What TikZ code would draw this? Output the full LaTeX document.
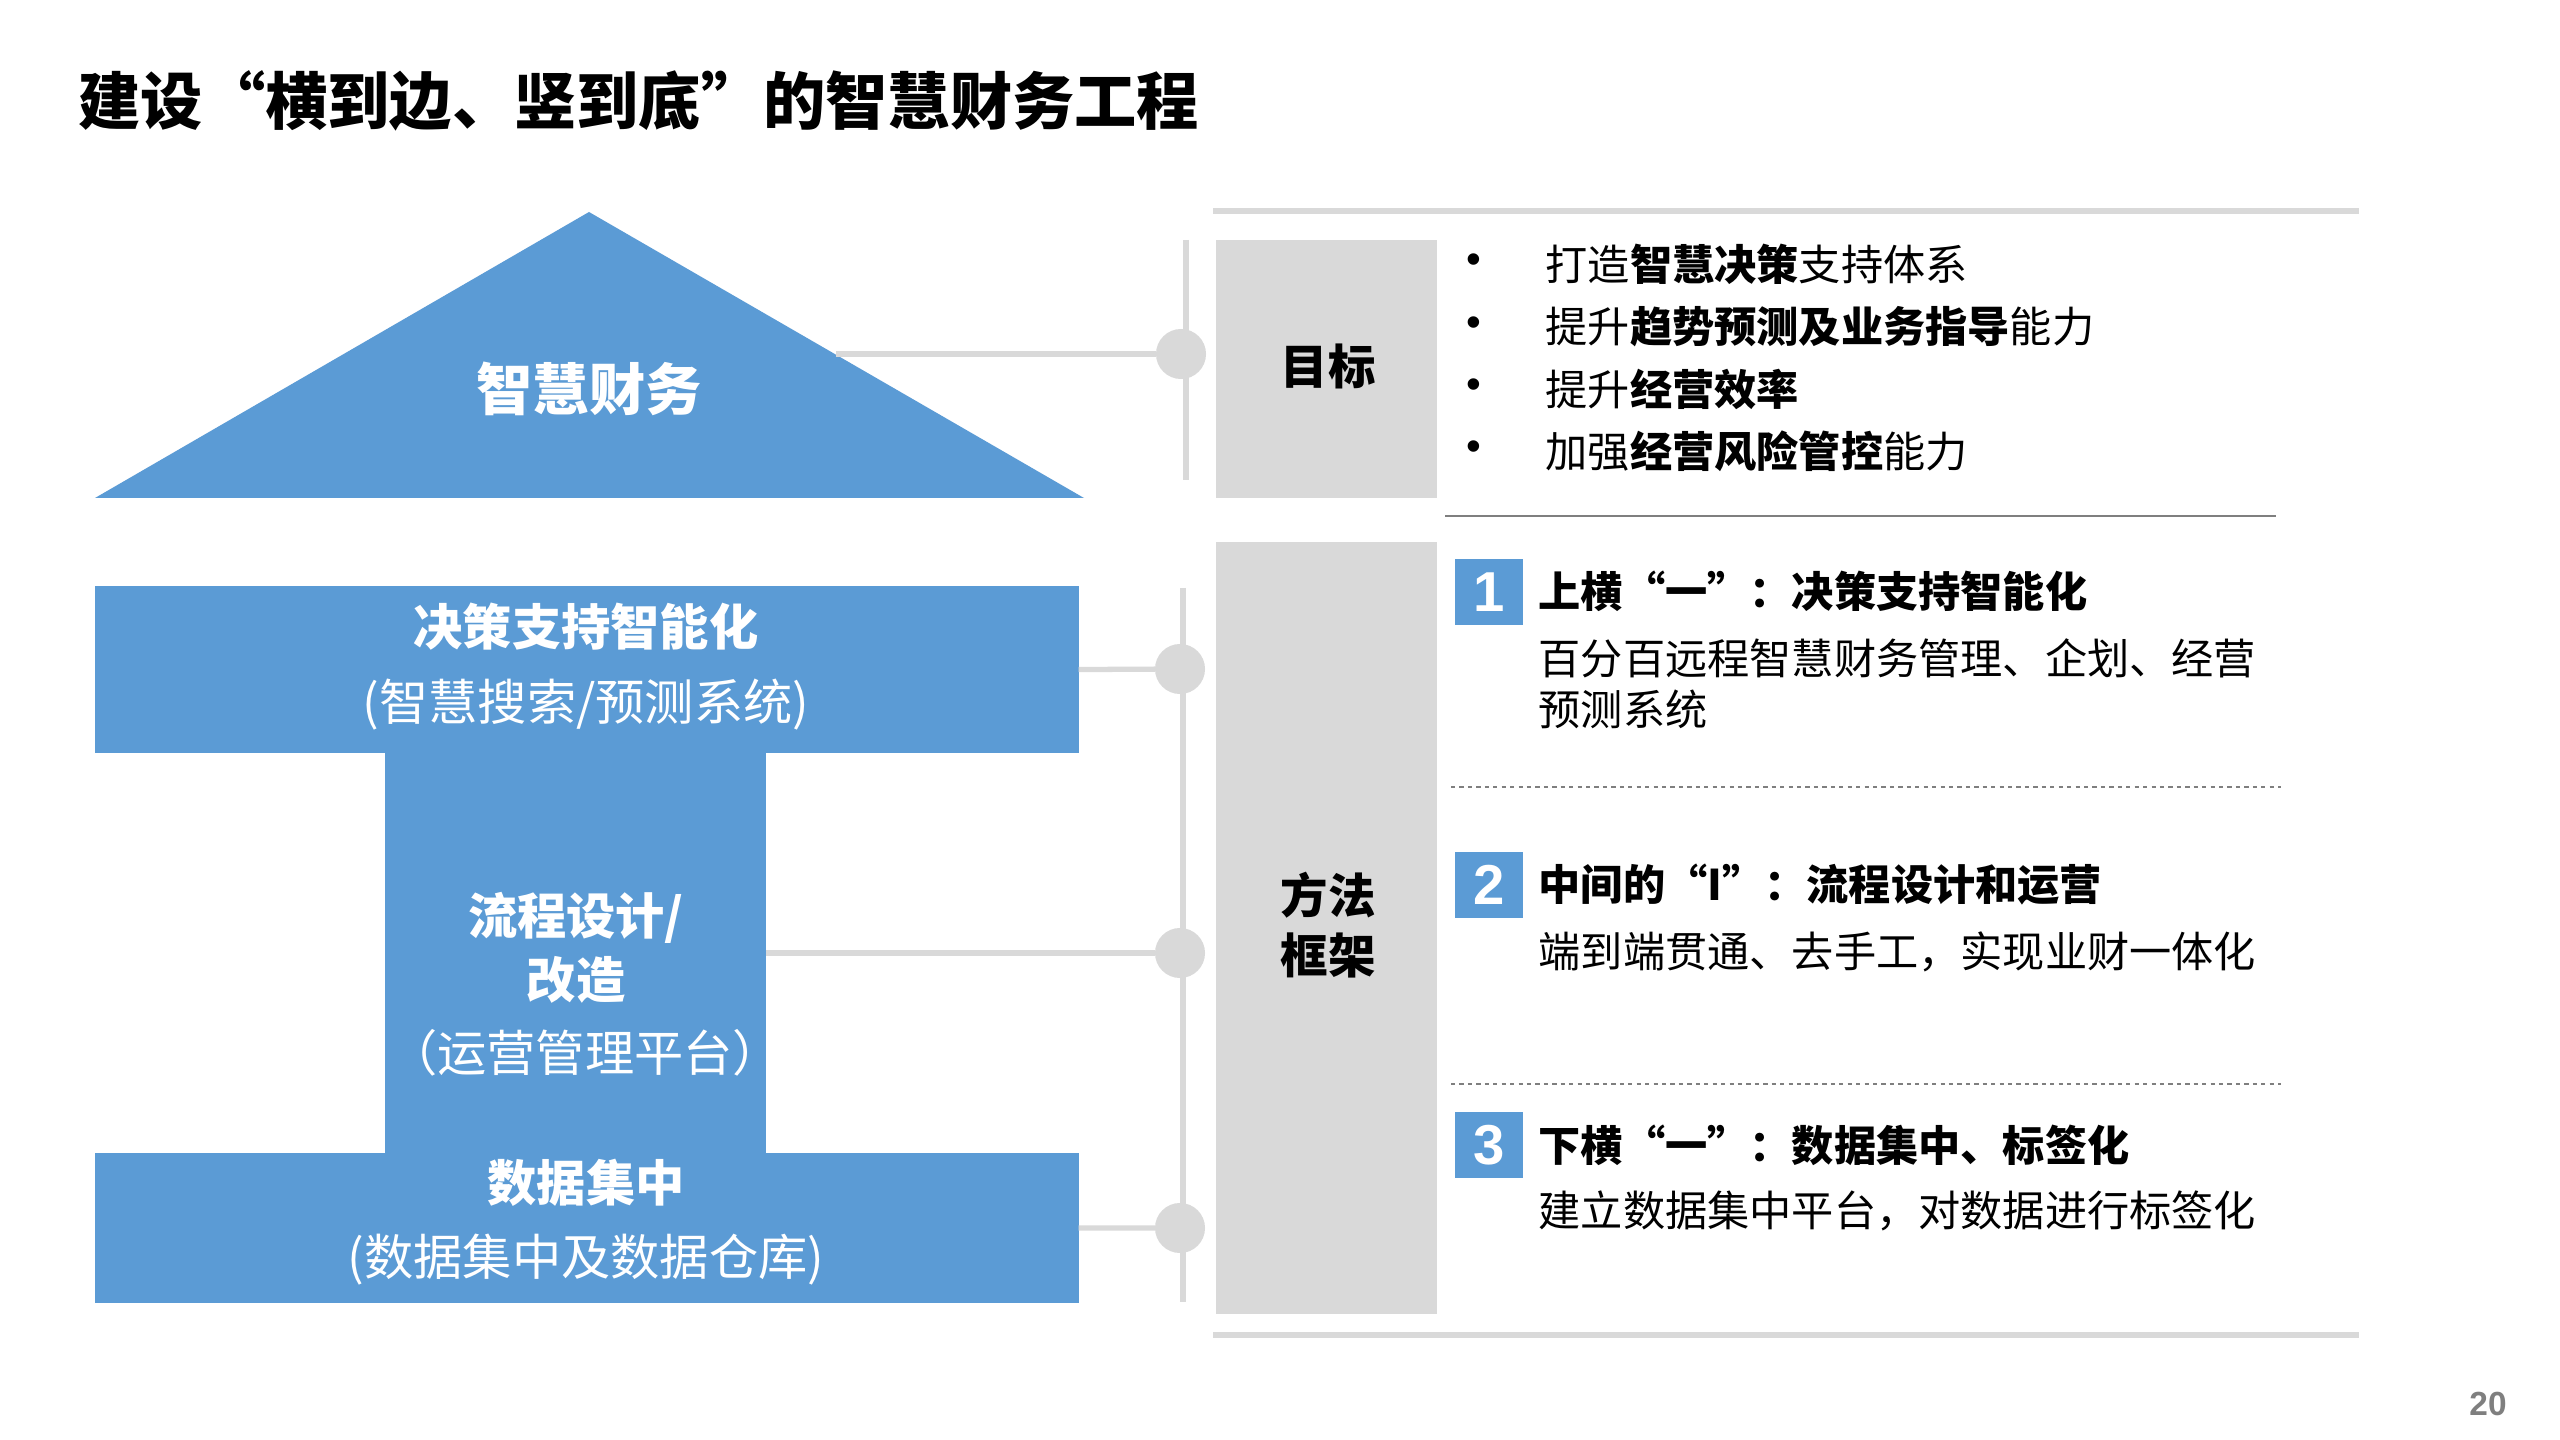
\documentclass[tikz,border=0pt]{standalone}
\usepackage{fontspec}
\setmainfont{Noto Sans CJK SC}
\newfontfamily\numfont{Liberation Sans}
\definecolor{myblue}{HTML}{5B9BD5}
\definecolor{lgray}{HTML}{D9D9D9}
\definecolor{dgray}{HTML}{7F7F7F}
\begin{document}
\begin{tikzpicture}[x=0.01cm,y=-0.01cm,
  bluebox/.style={fill=myblue, draw=none, inner sep=0, outer sep=0, anchor=north west},
  graybox/.style={fill=lgray, draw=none, inner sep=0, outer sep=0, anchor=north west},
  wtxt/.style={text=white, inner sep=0, font=\fontsize{14pt}{16pt}\selectfont},
  wbold/.style={wtxt, font=\fontsize{14pt}{16pt}\selectfont\bfseries},
  conn/.style={draw=lgray, line width=1.5pt},
  knob/.style={circle, fill=lgray, minimum size=0.5cm, inner sep=0, outer sep=0},
  btxt/.style={text=black, inner sep=0, anchor=west, font=\fontsize{12pt}{14pt}\selectfont},
  numbox/.style={fill=myblue, minimum width=0.68cm, minimum height=0.65cm, inner sep=0, text=white, font=\numfont\fontsize{16pt}{18pt}\selectfont\bfseries},
  sep/.style={draw=dgray, line width=0.6pt, dash pattern=on 1.2pt off 1.2pt}
]
\useasboundingbox (0,0) rectangle (2560,1440);
\fill[white] (0,0) rectangle (2560,1440);

% title
\node[inner sep=0, anchor=west, font=\fontsize{17.7pt}{20pt}\selectfont\bfseries] (title) at (78,101) {建设“横到边、竖到底”的智慧财务工程};

% triangle
\fill[myblue] (589,212) -- (1084,498) -- (95,498) -- cycle;
\node[wtxt, font=\fontsize{16pt}{18pt}\selectfont\bfseries] (tri) at (589,389) {智慧财务};
\coordinate (triR) at (836,354);

% I-shape
\node[bluebox, minimum width=3.81cm, minimum height=4.2cm] (col) at (385,743) {};
\node[bluebox, minimum width=9.83cm, minimum height=1.67cm] (top) at (95,586) {};
\node[bluebox, minimum width=9.83cm, minimum height=1.50cm] (bot) at (95,1153) {};

\node[wbold] (t1) at (586,627) {决策支持智能化};
\node[wtxt] (t2) at (586,705) {(智慧搜索/预测系统)};
\node[wbold] (m1) at (576,918) {流程设计/};
\node[wbold] (m2) at (576,980) {改造};
\node[wtxt] (m3) at (585,1053) {（运营管理平台）};
\node[wbold] (d1) at (586,1183) {数据集中};
\node[wtxt] (d2) at (586,1260) {(数据集中及数据仓库)};

% vertical connector lines
\coordinate (v1a) at (1186,240);
\coordinate (v1b) at (1186,480);
\coordinate (v2a) at (1183,588);
\coordinate (v2b) at (1183,1302);
\draw[conn] (v1a) -- (v1b);
\draw[conn] (v2a) -- (v2b);

\node[knob] (k0) at (1181,354) {};
\node[knob] (k1) at (1180,669) {};
\node[knob] (k2) at (1180,953) {};
\node[knob] (k3) at (1180,1228) {};
\draw[conn] (triR) -- (k0);
\draw[conn] (top.east) -- (k1);
\draw[conn] (col.east |- k2) -- (k2);
\draw[conn] (bot.east) -- (k3);

% right panel rules
\coordinate (ra) at (1213,211);
\coordinate (rb) at (2359,211);
\coordinate (rc) at (1213,1335);
\coordinate (rd) at (2359,1335);
\draw[draw=lgray, line width=1.6pt] (ra) -- (rb);
\draw[draw=lgray, line width=1.6pt] (rc) -- (rd);

% gray label boxes
\node[graybox, minimum width=2.21cm, minimum height=2.58cm] (goal) at (1216,240) {};
\node[graybox, minimum width=2.21cm, minimum height=7.72cm] (meth) at (1216,542) {};
\node[inner sep=0, font=\fontsize{13.5pt}{16pt}\selectfont\bfseries] (goalt) at (1328,366) {目标};
\node[inner sep=0, font=\fontsize{13.5pt}{16pt}\selectfont\bfseries] (metht1) at (1328,895) {方法};
\node[inner sep=0, font=\fontsize{13.5pt}{16pt}\selectfont\bfseries] (metht2) at (1328,955) {框架};

% goals bullets
\foreach \y/\n in {264/1,327/2,389/3,451/4}{
  \node[inner sep=0, font=\numfont\fontsize{12pt}{14pt}\selectfont] (dot\n) at (1474,\y) {•};
}
\node[btxt] (g1) at (1545,264) {打造\textbf{智慧决策}支持体系};
\node[btxt] (g2) at (1545,327) {提升\textbf{趋势预测及业务指导}能力};
\node[btxt] (g3) at (1545,389) {提升\textbf{经营效率}};
\node[btxt] (g4) at (1545,451) {加强\textbf{经营风险管控}能力};

\coordinate (la) at (1445,516);
\coordinate (lb) at (2276,516);
\draw[draw=dgray, line width=0.7pt] (la) -- (lb);

% method items
\node[numbox] (n1) at (1489,592) {1};
\node[btxt, font=\fontsize{12pt}{14pt}\selectfont\bfseries] (h1) at (1538,591) {上横“一”：决策支持智能化};
\node[btxt] (b1a) at (1538,658) {百分百远程智慧财务管理、企划、经营};
\node[btxt] (b1b) at (1538,709) {预测系统};

\coordinate (s1a) at (1451,787);
\coordinate (s1b) at (2281,787);
\draw[sep] (s1a) -- (s1b);

\node[numbox] (n2) at (1489,885) {2};
\node[btxt, font=\fontsize{12pt}{14pt}\selectfont\bfseries] (h2) at (1538,885) {中间的“I”：流程设计和运营};
\node[btxt] (b2) at (1538,952) {端到端贯通、去手工，实现业财一体化};

\coordinate (s2a) at (1451,1084);
\coordinate (s2b) at (2281,1084);
\draw[sep] (s2a) -- (s2b);

\node[numbox] (n3) at (1489,1145) {3};
\node[btxt, font=\fontsize{12pt}{14pt}\selectfont\bfseries] (h3) at (1538,1145) {下横“一”：数据集中、标签化};
\node[btxt] (b3) at (1538,1211) {建立数据集中平台，对数据进行标签化};

% page number
\node[inner sep=0, text=dgray, font=\numfont\fontsize{9.5pt}{11pt}\selectfont\bfseries] (pg) at (2488,1404) {20};
\end{tikzpicture}
\end{document}
